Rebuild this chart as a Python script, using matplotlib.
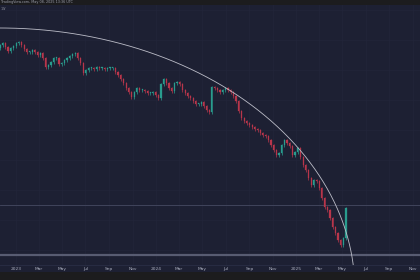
import numpy as np
import pandas as pd
import matplotlib
matplotlib.use("Agg")
import matplotlib.pyplot as plt
import matplotlib.dates as mdates
import matplotlib.transforms as mtransforms
from matplotlib.patches import Rectangle

# weekly closes
closes = [2.25, 2.27, 2.23, 2.19, 2.22, 2.24, 2.27, 2.28, 2.25, 2.21,
          2.18, 2.18, 2.20, 2.18, 2.15, 2.17, 2.12, 2.03, 2.05, 2.08,
          2.12, 2.12, 2.06, 2.07, 2.10, 2.12, 2.14, 2.16, 2.17, 2.12,
          2.07, 1.97, 2.00, 2.02, 2.02, 2.01, 2.03, 2.02, 2.02, 2.01,
          2.02, 2.02, 2.02, 1.98, 1.95, 1.91, 1.87, 1.82, 1.78, 1.73,
          1.78, 1.82, 1.80, 1.80, 1.79, 1.77, 1.77, 1.78, 1.75, 1.72,
          1.86, 1.91, 1.87, 1.82, 1.79, 1.87, 1.88, 1.86, 1.80, 1.77,
          1.74, 1.72, 1.69, 1.66, 1.66, 1.68, 1.64, 1.60, 1.58, 1.83,
          1.82, 1.80, 1.78, 1.80, 1.82, 1.80, 1.78, 1.74, 1.69, 1.59,
          1.52, 1.49, 1.47, 1.45, 1.43, 1.41, 1.40, 1.37, 1.35, 1.34,
          1.30, 1.25, 1.20, 1.15, 1.17, 1.25, 1.30, 1.27, 1.24, 1.15,
          1.18, 1.22, 1.13, 1.05, 1.00, 0.92, 0.85, 0.90, 0.89, 0.82,
          0.72, 0.63, 0.60, 0.52, 0.43, 0.37, 0.30, 0.25, 0.32, 0.62]
first_open = 2.22
start_date = "2022-11-20"

levels = [0.65, 0.15]

# arc drawing (ellipse quarter): centre, half-axes
arc_center = ("2022-11-20", -0.20)
arc_days = 926
arc_height = 2.62

tick_dates = pd.date_range("2023-01-01", "2025-11-01", freq="2MS")

BG = "#1d2033"
UP = "#299c8e"
DOWN = "#b8364b"

dates = pd.date_range(start_date, periods=len(closes), freq="7D")
opens = [first_open] + closes[:-1]
x = mdates.date2num(dates)

fig = plt.figure(figsize=(4.2, 2.8), dpi=100)
fig.patch.set_facecolor(BG)
ax = fig.add_axes([0, 0, 1, 1])
ax.set_facecolor(BG)

x0 = mdates.date2num(pd.Timestamp("2022-11-20"))
ax.set_xlim(x0, x0 + 1096)
ax.set_ylim(-0.10, 2.70)
for s in ax.spines.values():
    s.set_visible(False)
ax.set_xticks([])
ax.set_yticks([])

# faint grid
for d in mdates.date2num(tick_dates):
    ax.axvline(d, color="#22253a", lw=0.5, zorder=0)
for p in np.arange(0.2, 2.7, 0.3):
    ax.axhline(p, color="#22253a", lw=0.5, zorder=0)

# candles
for xi, o, c in zip(x, opens, closes):
    col = UP if c >= o else DOWN
    hi = max(o, c) + 0.015
    lo = min(o, c) - 0.015
    ax.vlines(xi, lo, hi, color=col, lw=0.5, zorder=3)
    ax.bar(xi, max(abs(c - o), 0.006), bottom=min(o, c), width=3.0,
           color=col, edgecolor=col, lw=0.2, zorder=3)

# horizontal levels
ax.axhline(levels[0], color="#464a62", lw=0.6, zorder=2)
ax.axhline(levels[1], color="#585c72", lw=1.6, zorder=2)

# arc
cx = mdates.date2num(pd.Timestamp(arc_center[0]))
t = np.linspace(0, np.pi / 2, 400)
ax.plot(cx + arc_days * np.cos(t), arc_center[1] + arc_height * np.sin(t),
        color="#bcbdc8", lw=0.6, zorder=4)

# time axis strip
ax.add_patch(Rectangle((0, 0), 1, 15 / 280, transform=ax.transAxes,
                       facecolor=BG, edgecolor="none", zorder=5))
ax.axhline(-0.10 + 2.80 * 15 / 280, color="#2a2e46", lw=0.6, zorder=6)
ax.add_patch(Rectangle((0, 0), 1, 8 / 280, transform=ax.transAxes,
                       facecolor="#1c1c1e", edgecolor="none", zorder=7))
trans = mtransforms.blended_transform_factory(ax.transData, ax.transAxes)
for d in tick_dates:
    lab = str(d.year) if d.month == 1 else d.strftime("%b")
    ax.text(mdates.date2num(d), 11 / 280, lab, transform=trans, ha="center",
            va="center", fontsize=3.2, color="#a9adbd", zorder=8)

# top bar
ax.add_patch(Rectangle((0, 1 - 5 / 280), 1, 5 / 280, transform=ax.transAxes,
                       facecolor="#1c1c1e", edgecolor="none", zorder=7))
ax.text(0.002, 1 - 2.5 / 280, "TradingView.com, May 08, 2025 13:36 UTC",
        transform=ax.transAxes, fontsize=2.4, color="#9a9da8",
        ha="left", va="center", zorder=8)
ax.text(0.002, 1 - 9 / 280, "1W", transform=ax.transAxes, fontsize=2.4,
        color="#8a8d98", ha="left", va="center", zorder=8)

fig.savefig("out.png", dpi=100, facecolor=BG)
